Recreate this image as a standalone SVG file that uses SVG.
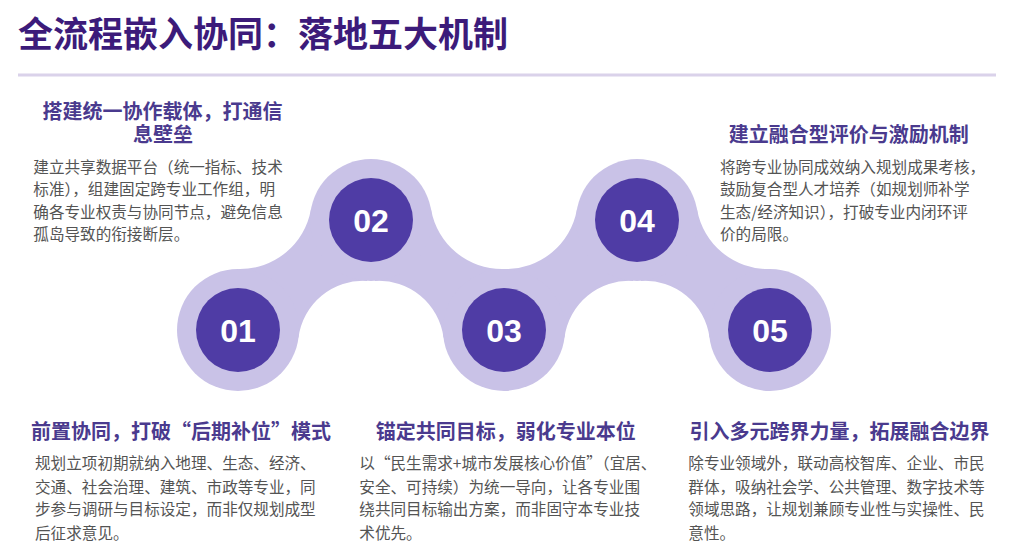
<svg xmlns="http://www.w3.org/2000/svg" width="1009" height="557" viewBox="0 0 1009 557">
<style>
text { font-family: 'Noto Sans CJK SC', 'Noto Sans CJK JP', sans-serif; }
.title { font-weight: 700; font-size: 35px; fill: #3c1b7a; }
.head { font-weight: 700; font-size: 20px; fill: #4a3a8e; text-anchor: middle; }
.body { font-size: 15.6px; fill: #545454; }
.num { font-family: 'Liberation Sans', Arial, sans-serif; font-weight: 700; font-size: 32px; fill: #ffffff; text-anchor: middle; }
.ring { fill: #c9c2e7; }
.dot { fill: #4f3ca5; }
</style>
<rect x="0" y="0" width="1009" height="557" fill="#ffffff"/>
<g id="title">
<text class="title" x="18" y="46.6">全流程嵌入协同：落地五大机制</text>
<rect x="18" y="73.5" width="978" height="3" fill="#dad2ea"/>
</g>
<g id="connectors">
<path class="ring" d="M238,330 L238.9,269 A72,72 0 0 0 310.9,209.5 L371,220 L367.1,280.9 A65,65 0 0 0 298.5,337.6 Z"/>
<path class="ring" d="M504,330 L503.1,269 A72,72 0 0 1 431.1,209.5 L371,220 L374.9,280.9 A65,65 0 0 1 443.5,337.6 Z"/>
<path class="ring" d="M504,330 L504.9,269 A72,72 0 0 0 576.9,209.5 L637,220 L633.1,280.9 A65,65 0 0 0 564.5,337.6 Z"/>
<path class="ring" d="M770,330 L769.1,269 A72,72 0 0 1 697.1,209.5 L637,220 L640.9,280.9 A65,65 0 0 1 709.5,337.6 Z"/>
</g>
<g id="node-01">
<circle class="ring" cx="238" cy="330" r="61"/>
<circle class="dot" cx="238" cy="330" r="42"/>
<text class="num" x="238" y="341.5">01</text>
<text class="head" x="181" y="439.3">前置协同，打破“后期补位”模式</text>
<text class="body" x="35" y="469.2">规划立项初期就纳入地理、生态、经济、</text>
<text class="body" x="35" y="492.6">交通、社会治理、建筑、市政等专业，同</text>
<text class="body" x="35" y="515.2">步参与调研与目标设定，而非仅规划成型</text>
<text class="body" x="35" y="538.6">后征求意见。</text>
</g>
<g id="node-02">
<circle class="ring" cx="371" cy="220" r="61"/>
<circle class="dot" cx="371" cy="220" r="42"/>
<text class="num" x="371" y="231.5">02</text>
<text class="head"><tspan x="162.5" y="118.5">搭建统一协作载体，打通信</tspan><tspan x="163" y="141.5">息壁垒</tspan></text>
<text class="body" x="33.3" y="172.6">建立共享数据平台（统一指标、技术</text>
<text class="body" x="33.3" y="195.2">标准），组建固定跨专业工作组，明</text>
<text class="body" x="33.3" y="217.8">确各专业权责与协同节点，避免信息</text>
<text class="body" x="33.3" y="240.4">孤岛导致的衔接断层。</text>
</g>
<g id="node-03">
<circle class="ring" cx="504" cy="330" r="61"/>
<circle class="dot" cx="504" cy="330" r="42"/>
<text class="num" x="504" y="341.5">03</text>
<text class="head" x="505.8" y="439.3">锚定共同目标，弱化专业本位</text>
<text class="body" x="359.3" y="469.2">以“民生需求+城市发展核心价值”（宜居、</text>
<text class="body" x="359.3" y="492.6">安全、可持续）为统一导向，让各专业围</text>
<text class="body" x="359.3" y="515.2">绕共同目标输出方案，而非固守本专业技</text>
<text class="body" x="359.3" y="538.6">术优先。</text>
</g>
<g id="node-04">
<circle class="ring" cx="637" cy="220" r="61"/>
<circle class="dot" cx="637" cy="220" r="42"/>
<text class="num" x="637" y="231.5">04</text>
<text class="head" x="848.8" y="141.6">建立融合型评价与激励机制</text>
<text class="body" x="720" y="172.6">将跨专业协同成效纳入规划成果考核，</text>
<text class="body" x="720" y="195.2">鼓励复合型人才培养（如规划师补学</text>
<text class="body" x="720" y="217.8">生态/经济知识），打破专业内闭环评</text>
<text class="body" x="720" y="240.4">价的局限。</text>
</g>
<g id="node-05">
<circle class="ring" cx="770" cy="330" r="61"/>
<circle class="dot" cx="770" cy="330" r="42"/>
<text class="num" x="770" y="341.5">05</text>
<text class="head" x="839.5" y="439.3">引入多元跨界力量，拓展融合边界</text>
<text class="body" x="688.3" y="469.2">除专业领域外，联动高校智库、企业、市民</text>
<text class="body" x="688.3" y="492.6">群体，吸纳社会学、公共管理、数字技术等</text>
<text class="body" x="688.3" y="515.2">领域思路，让规划兼顾专业性与实操性、民</text>
<text class="body" x="688.3" y="538.6">意性。</text>
</g>
</svg>
